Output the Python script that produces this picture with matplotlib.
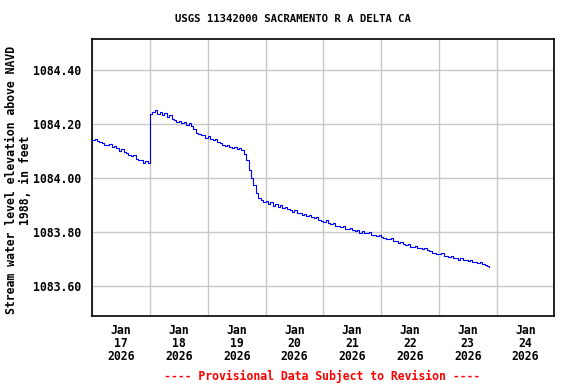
import numpy as np
import pandas as pd
import matplotlib
matplotlib.use("Agg")
import matplotlib.pyplot as plt
import matplotlib.dates as mdates

# Hourly gage heights starting 2026-01-17 00:00
start_time = "2026-01-17 00:00"
elevation_ft = [
    1084.140, 1084.146, 1084.136, 1084.133, 1084.130, 1084.124, 1084.122, 1084.126,
    1084.114, 1084.118, 1084.110, 1084.102, 1084.108, 1084.096, 1084.094, 1084.084,
    1084.080, 1084.085, 1084.070, 1084.068, 1084.066, 1084.056, 1084.064, 1084.055,
    1084.238, 1084.243, 1084.252, 1084.238, 1084.246, 1084.234, 1084.240, 1084.226,
    1084.232, 1084.220, 1084.215, 1084.208, 1084.212, 1084.203, 1084.208, 1084.196,
    1084.203, 1084.194, 1084.182, 1084.168, 1084.165, 1084.158, 1084.158, 1084.150,
    1084.155, 1084.146, 1084.142, 1084.145, 1084.134, 1084.130, 1084.124, 1084.120,
    1084.124, 1084.114, 1084.112, 1084.116, 1084.106, 1084.110, 1084.104, 1084.090,
    1084.065, 1084.030, 1084.000, 1083.975, 1083.945, 1083.925, 1083.920, 1083.910,
    1083.915, 1083.904, 1083.910, 1083.898, 1083.904, 1083.894, 1083.900, 1083.888,
    1083.893, 1083.884, 1083.882, 1083.874, 1083.880, 1083.870, 1083.870, 1083.864,
    1083.868, 1083.858, 1083.862, 1083.854, 1083.852, 1083.856, 1083.844, 1083.842,
    1083.838, 1083.846, 1083.832, 1083.830, 1083.833, 1083.824, 1083.822, 1083.818,
    1083.824, 1083.813, 1083.812, 1083.815, 1083.806, 1083.805, 1083.807, 1083.798,
    1083.803, 1083.795, 1083.795, 1083.799, 1083.790, 1083.790, 1083.784, 1083.788,
    1083.780, 1083.779, 1083.774, 1083.774, 1083.778, 1083.768, 1083.766, 1083.760,
    1083.764, 1083.754, 1083.752, 1083.755, 1083.746, 1083.745, 1083.748, 1083.740,
    1083.740, 1083.736, 1083.742, 1083.732, 1083.729, 1083.724, 1083.722, 1083.718,
    1083.718, 1083.723, 1083.712, 1083.712, 1083.706, 1083.710, 1083.702, 1083.702,
    1083.698, 1083.704, 1083.695, 1083.695, 1083.691, 1083.697, 1083.688, 1083.688,
    1083.684, 1083.690, 1083.680, 1083.678, 1083.674, 1083.672,
]
y_ticks = [1083.60, 1083.80, 1084.00, 1084.20, 1084.40]
day_labels = ["Jan\n17\n2026", "Jan\n18\n2026", "Jan\n19\n2026", "Jan\n20\n2026",
              "Jan\n21\n2026", "Jan\n22\n2026", "Jan\n23\n2026", "Jan\n24\n2026"]
title = "USGS 11342000 SACRAMENTO R A DELTA CA"
ylabel = "Stream water level elevation above NAVD\n1988, in feet"
footer = "---- Provisional Data Subject to Revision ----"

times = pd.date_range(start_time, periods=len(elevation_ft), freq="h")

mono = "DejaVu Sans Mono"
fs = 8.3

fig = plt.figure(figsize=(5.76, 3.84), dpi=100)
ax = fig.add_axes([0.1602, 0.1771, 0.9623 - 0.1602, 0.8984 - 0.1771])

ax.plot(times, elevation_ft, color="#0000ff", lw=0.8, drawstyle="steps-post")

x0 = pd.Timestamp("2026-01-17")
x1 = pd.Timestamp("2026-01-25")
ax.set_xlim(x0, x1)
ax.set_ylim(1083.489, 1084.515)

major = pd.date_range(x0, x1, freq="D")
ax.set_xticks(major)
ax.set_xticklabels([""] * len(major))
noon = pd.date_range("2026-01-17 12:00", periods=len(day_labels), freq="D")
ax.set_xticks(noon, minor=True)
ax.set_xticklabels(day_labels, minor=True, fontfamily=mono, fontweight="bold",
                   fontsize=fs, linespacing=1.0)
ax.tick_params(axis="x", which="both", length=0, pad=6)

ax.set_yticks(y_ticks)
ax.set_yticklabels([f"{v:.2f}" for v in y_ticks], fontfamily=mono,
                   fontweight="bold", fontsize=fs)
ax.tick_params(axis="y", length=0, pad=8)

ax.grid(True, which="major", color="#c8c8c8", lw=1.0)
ax.set_axisbelow(True)
for s in ax.spines.values():
    s.set_color("black")
    s.set_linewidth(1.2)

fig.text(293 / 576, 1 - 19 / 384, title, ha="center", va="center",
         fontfamily=mono, fontweight="bold", fontsize=7.7)
fig.text(322.5 / 576, 1 - 376 / 384, footer, ha="center", va="center",
         fontfamily=mono, fontweight="bold", fontsize=fs, color="red")
fig.text(18.5 / 576, 1 - 180 / 384, ylabel, ha="center", va="center",
         rotation=90, multialignment="center", fontfamily=mono,
         fontweight="bold", fontsize=fs, linespacing=1.1)

fig.savefig("out.png", dpi=100)
